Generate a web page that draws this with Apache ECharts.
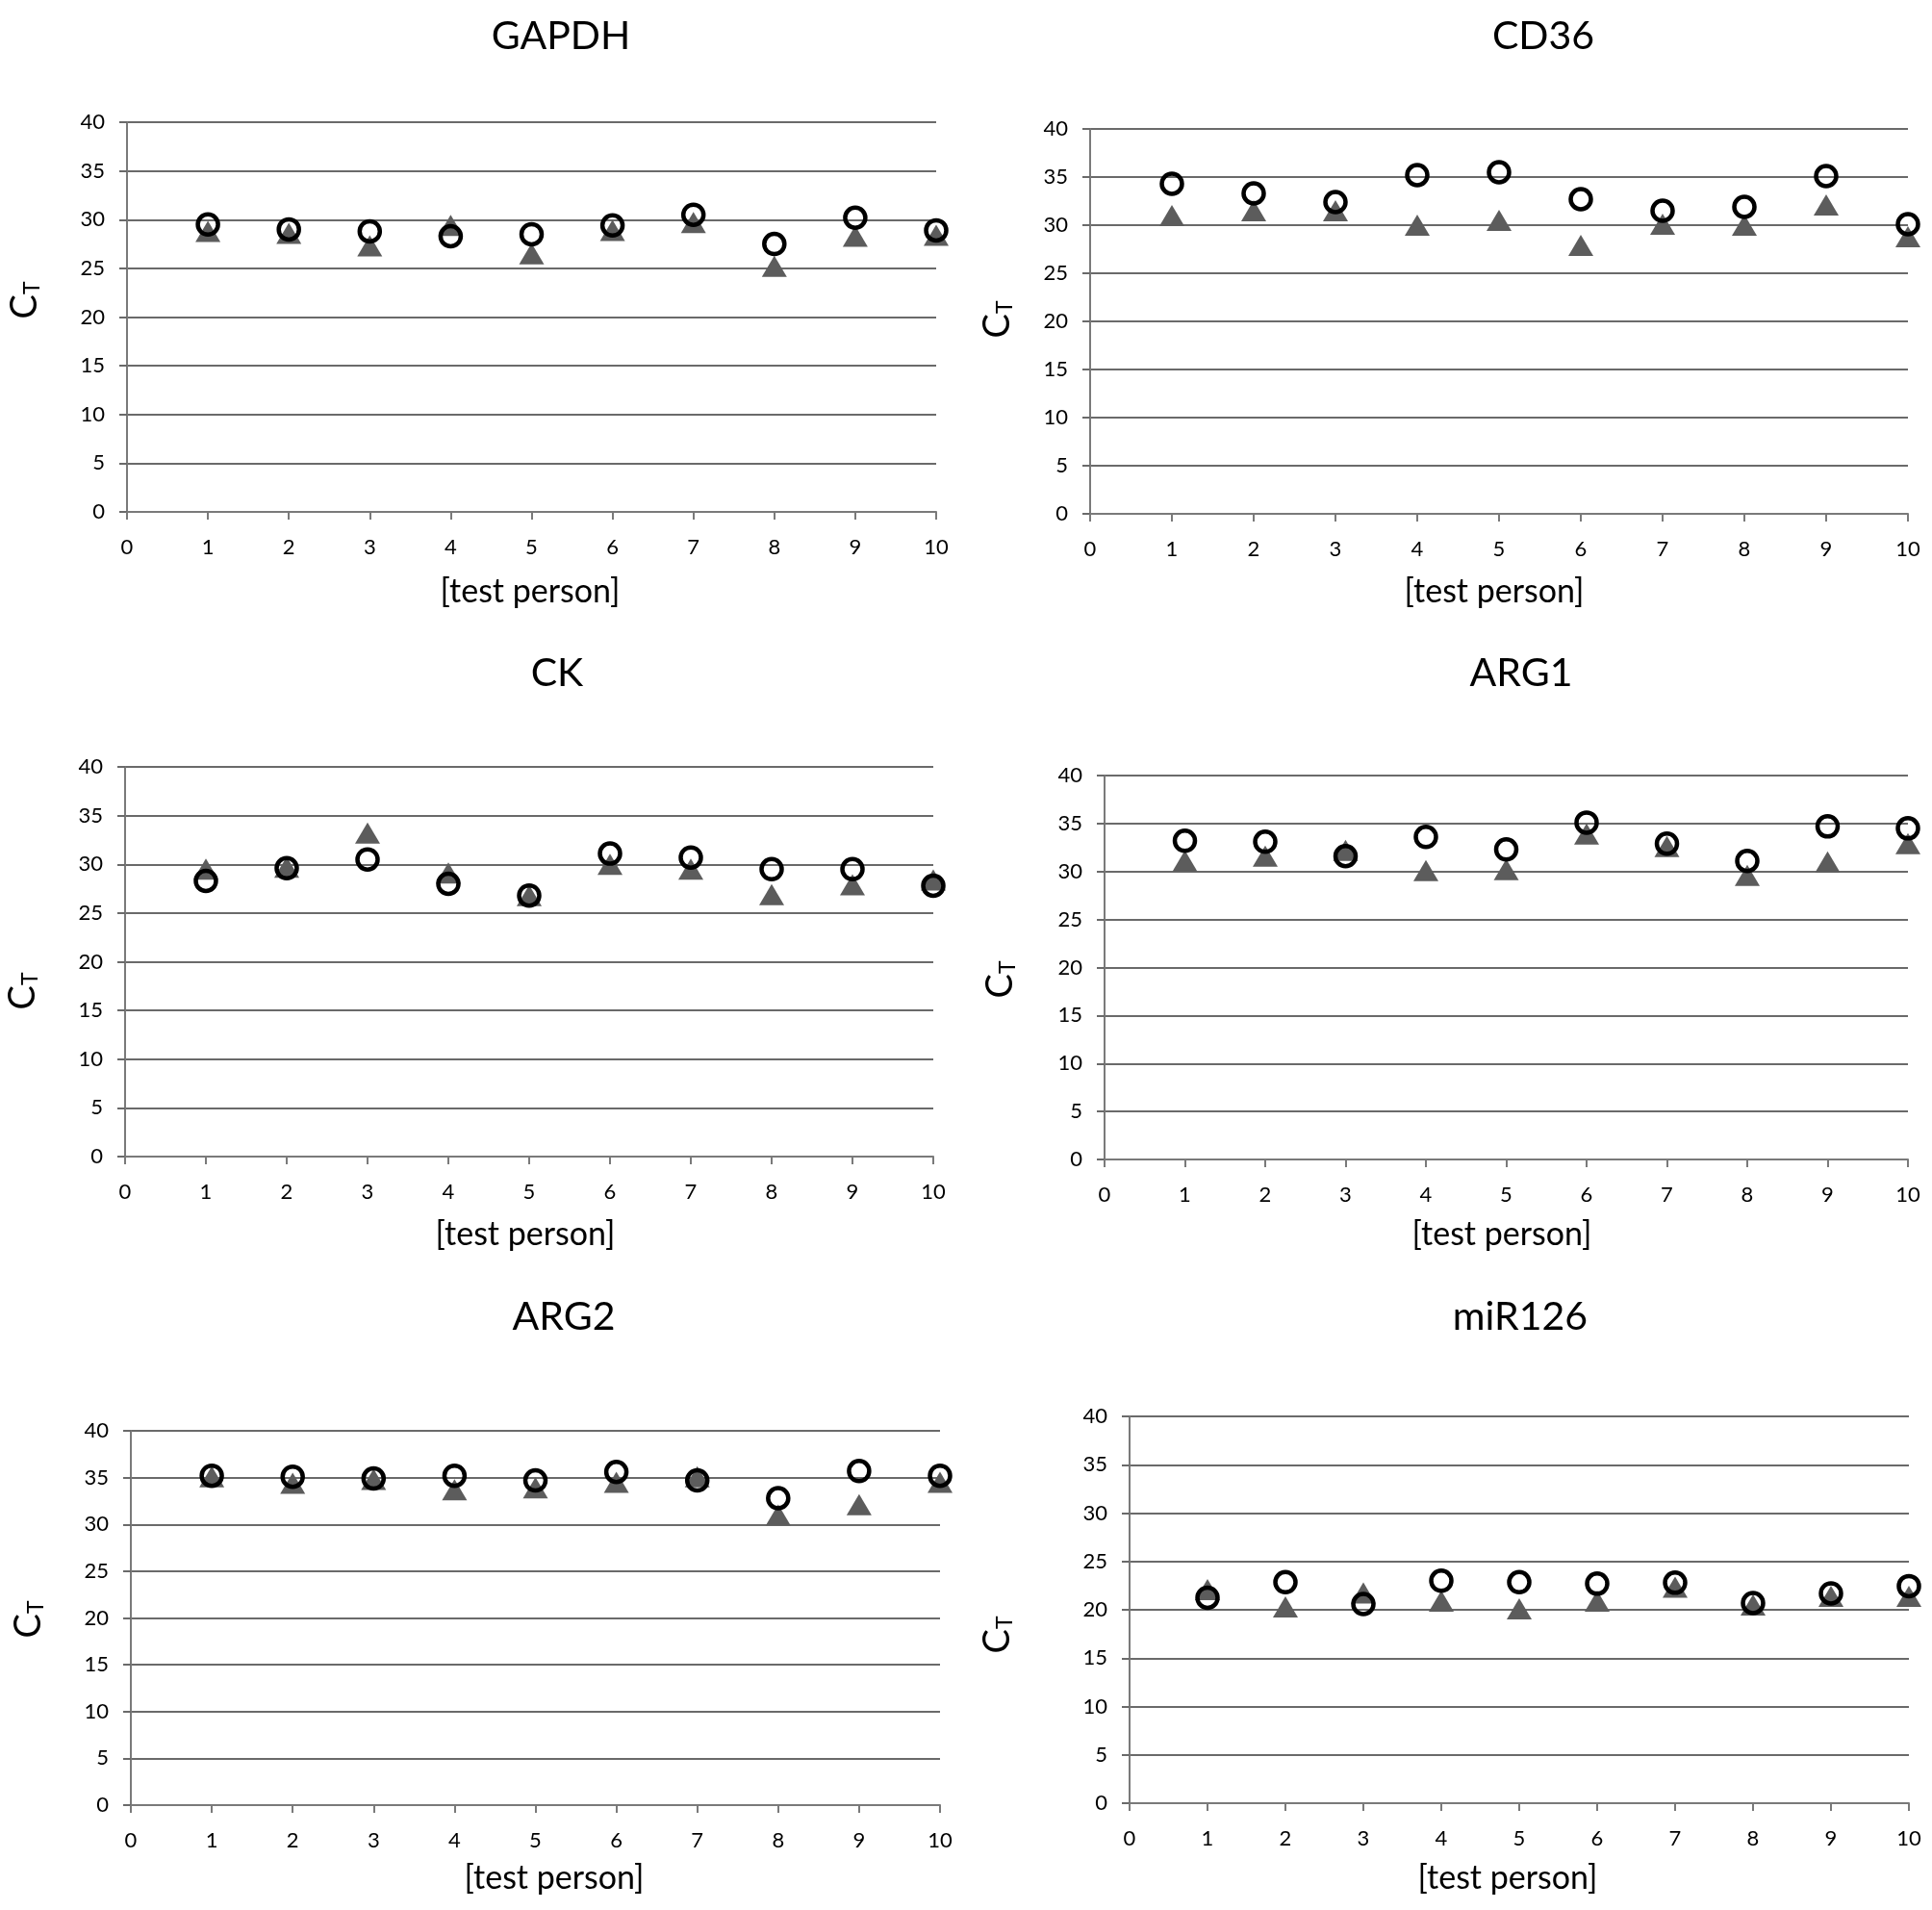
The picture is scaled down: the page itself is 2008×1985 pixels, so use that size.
<!DOCTYPE html>
<html>
<head>
<meta charset="utf-8">
<script src="https://cdn.jsdelivr.net/npm/echarts@6/dist/echarts.min.js"></script>
<style>
html,body{margin:0;padding:0;background:#fff;}
#chart{width:2008px;height:1985px;}
</style>
</head>
<body>
<div id="chart"></div>
<script>
// ---- data ----
const persons = [1, 2, 3, 4, 5, 6, 7, 8, 9, 10];
const genes = ['GAPDH', 'CD36', 'CK', 'ARG1', 'ARG2', 'miR126'];
const yTicks = [0, 5, 10, 15, 20, 25, 30, 35, 40];
const xTicks = [0, 1, 2, 3, 4, 5, 6, 7, 8, 9, 10];

const gapdhCircle = [29.5, 29.0, 28.8, 28.3, 28.5, 29.4, 30.5, 27.5, 30.2, 28.9];
const gapdhTri    = [28.8, 28.6, 27.3, 29.4, 26.5, 28.9, 29.7, 25.2, 28.3, 28.4];
const cd36Circle  = [34.3, 33.3, 32.4, 35.2, 35.5, 32.7, 31.5, 31.9, 35.1, 30.1];
const cd36Tri     = [31.0, 31.5, 31.5, 30.0, 30.5, 27.9, 30.1, 30.0, 32.1, 28.8];
const ckCircle    = [28.3, 29.6, 30.5, 28.0, 26.8, 31.1, 30.7, 29.5, 29.5, 27.8];
const ckTri       = [29.5, 29.7, 33.2, 29.1, 26.8, 30.0, 29.5, 26.9, 27.9, 28.4];
const arg1Circle  = [33.2, 33.1, 31.6, 33.6, 32.3, 35.1, 32.9, 31.1, 34.7, 34.5];
const arg1Tri     = [31.1, 31.6, 32.2, 30.1, 30.2, 33.9, 32.6, 29.6, 31.0, 32.9];
const arg2Circle  = [35.2, 35.1, 34.9, 35.2, 34.7, 35.6, 34.7, 32.8, 35.7, 35.2];
const arg2Tri     = [35.1, 34.4, 34.8, 33.7, 33.9, 34.5, 35.1, 31.0, 32.1, 34.5];
const mirCircle   = [21.25, 22.85, 20.6, 23.0, 22.85, 22.7, 22.8, 20.7, 21.7, 22.45];
const mirTri      = [22.1, 20.3, 21.75, 20.9, 20.1, 20.9, 22.35, 20.5, 21.4, 21.4];

const circleSets = [gapdhCircle, cd36Circle, ckCircle, arg1Circle, arg2Circle, mirCircle];
const triSets = [gapdhTri, cd36Tri, ckTri, arg1Tri, arg2Tri, mirTri];

// ---- layout ----
const FONT = 'Lato, "Open Sans", sans-serif';
const grids = [
  {left: 132, top: 127, width: 841, height: 405},
  {left: 1133, top: 134, width: 850, height: 400},
  {left: 130, top: 797, width: 840, height: 405},
  {left: 1148, top: 806, width: 835, height: 399},
  {left: 136, top: 1487, width: 841, height: 389},
  {left: 1174, top: 1472, width: 810, height: 402}
];
const titlePos = [[583, 38], [1604, 38], [579, 700], [1581, 700], [586, 1369], [1580, 1369]];
const xNamePos = [[551, 615], [1553, 615], [546, 1283], [1561, 1283], [576, 1952], [1567, 1952]];
const yNamePos = [[26, 312], [1037, 332], [24, 1030], [1040, 1018], [30, 1683], [1037, 1699]];

const gridColor = '#6a6a6a';
const axisColor = '#7a7a7a';

const option = {
  animation: false,
  backgroundColor: '#ffffff',
  grid: grids.map(g => Object.assign({containLabel: false}, g)),
  xAxis: grids.map((g, i) => ({
    type: 'value', gridIndex: i, min: xTicks[0], max: xTicks[xTicks.length - 1], interval: 1,
    axisLine: {show: true, onZero: false, lineStyle: {color: axisColor, width: 2}},
    axisTick: {show: true, length: 8, lineStyle: {color: axisColor, width: 2}},
    axisLabel: {margin: 26, color: '#000', fontSize: 22, fontFamily: FONT},
    splitLine: {show: false}
  })),
  yAxis: grids.map((g, i) => ({
    type: 'value', gridIndex: i, min: yTicks[0], max: yTicks[yTicks.length - 1], interval: 5,
    axisLine: {show: true, lineStyle: {color: axisColor, width: 2}},
    axisTick: {show: true, length: 8, lineStyle: {color: gridColor, width: 2}},
    axisLabel: {margin: 23, color: '#000', fontSize: 22, fontFamily: FONT},
    splitLine: {show: true, lineStyle: {color: gridColor, width: 2}}
  })),
  series: [],
  graphic: []
};

genes.forEach((name, i) => {
  option.series.push({
    type: 'scatter', xAxisIndex: i, yAxisIndex: i, name: name + ' triangle',
    symbol: 'triangle', symbolSize: [26, 22],
    itemStyle: {color: '#5c5c5c', opacity: 1},
    data: persons.map((p, k) => [p, triSets[i][k]]),
    z: 2
  });
  option.series.push({
    type: 'scatter', xAxisIndex: i, yAxisIndex: i, name: name + ' circle',
    symbol: 'circle', symbolSize: 21,
    itemStyle: {color: 'rgba(0,0,0,0)', borderColor: '#000', borderWidth: 4.5, opacity: 1},
    data: persons.map((p, k) => [p, circleSets[i][k]]),
    z: 3
  });
  option.graphic.push({
    type: 'text', x: titlePos[i][0], y: titlePos[i][1],
    style: {text: name, fontSize: 41, fontFamily: FONT, fill: '#000', align: 'center', verticalAlign: 'middle'}
  });
  option.graphic.push({
    type: 'text', x: xNamePos[i][0], y: xNamePos[i][1],
    style: {text: '[test person]', fontSize: 34, fontFamily: FONT, fill: '#000', align: 'center', verticalAlign: 'middle'}
  });
  option.graphic.push({
    type: 'text', x: yNamePos[i][0], y: yNamePos[i][1], rotation: Math.PI / 2,
    style: {
      text: '{c|C}{t|T}', align: 'center', verticalAlign: 'middle', fill: '#000',
      rich: {
        c: {fontSize: 38, lineHeight: 38, fontFamily: FONT, verticalAlign: 'top', fill: '#000'},
        t: {fontSize: 23, lineHeight: 23, fontFamily: FONT, verticalAlign: 'bottom', padding: [20, 0, 0, 0], fill: '#000'}
      }
    }
  });
});

const chart = echarts.init(document.getElementById('chart'), null, {renderer: 'canvas'});
chart.setOption(option);
</script>
</body>
</html>
